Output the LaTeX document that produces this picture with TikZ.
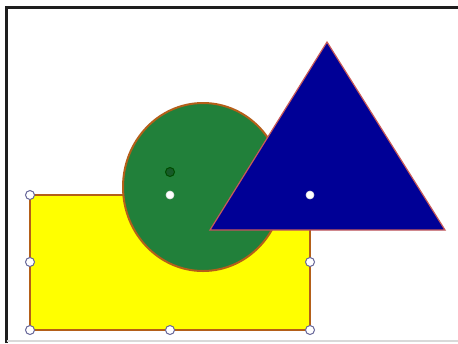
\documentclass[tikz,border=0pt]{standalone}
\usetikzlibrary{positioning}

\definecolor{shapeyellow}{RGB}{255,255,0}
\definecolor{shapegreen}{RGB}{33,128,58}
\definecolor{shapenavy}{RGB}{0,0,150}
\definecolor{edgebrown}{RGB}{180,95,25}
\definecolor{edgepink}{RGB}{200,90,90}
\definecolor{framegray}{RGB}{30,30,30}

\begin{document}
\begin{tikzpicture}[
    x=0.5pt, y=-0.5pt,
    handle/.style={circle, draw=gray!80!blue, fill=white, line width=0.5pt, minimum size=4.5pt, inner sep=0pt},
    rothandle/.style={circle, draw=black!70!green, fill=shapegreen!70!black, line width=0.5pt, minimum size=4.5pt, inner sep=0pt},
    centerdot/.style={circle, fill=white, draw=white!80!gray, line width=0.3pt, minimum size=4pt, inner sep=0pt}
  ]
    \useasboundingbox (0,0) rectangle (458,343);
    \fill[white] (0,0) rectangle (458,343);
    % frame
    \draw[framegray, line width=1.5pt] (6.5,343) -- (6.5,7.5) -- (458,7.5);
    \draw[gray!30, line width=0.8pt] (6.5,341) -- (458,341);

    % shapes
    \draw[fill=shapeyellow, draw=edgebrown, line width=1.1pt] (30,195) rectangle (310,330);
    \draw[fill=shapegreen, draw=edgebrown, line width=1pt] (203,187) ellipse [x radius=80, y radius=84];
    \draw[fill=shapenavy, draw=edgepink, line width=0.6pt] (327,42) -- (445,230) -- (210,230) -- cycle;

    % selection handles
    \node[handle] (tl) at (30,195) {};
    \node[handle] (ml) at (30,262) {};
    \node[handle] (bl) at (30,330) {};
    \node[handle] (bm) at (170,330) {};
    \node[handle] (br) at (310,330) {};
    \node[handle] (mr) at (310,262) {};
    \node[centerdot] (tm) at (170,195) {};
    \node[rothandle] (rot) at (170,172) {};
    \node[centerdot] (tri) at (310,195) {};
  \end{tikzpicture}
\end{document}
